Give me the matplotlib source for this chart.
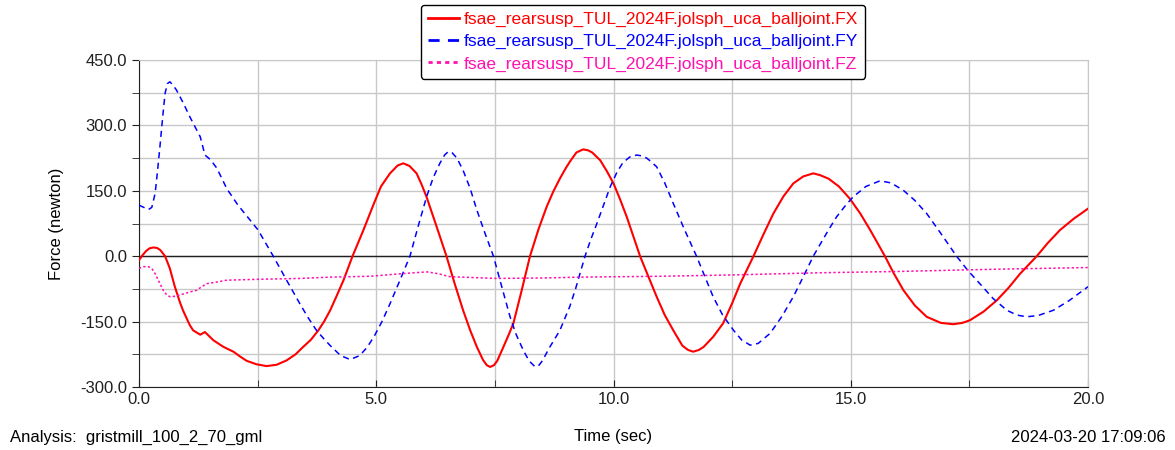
import numpy as np
import matplotlib
matplotlib.use('Agg')
import matplotlib.pyplot as plt
from matplotlib.ticker import MultipleLocator, FormatStrFormatter

plt.rcParams['font.family'] = ['Liberation Sans', 'DejaVu Sans']

# FX (solid red)
t_fx = [0.0, 0.08, 0.15, 0.22, 0.3, 0.38, 0.45, 0.55, 0.65, 0.75, 0.86, 0.93, 1.07,
        1.14, 1.29, 1.39, 1.57, 1.78, 1.99, 2.13, 2.27, 2.48, 2.69, 2.9, 3.11, 3.3,
        3.46, 3.62, 3.78, 3.9, 4.03, 4.17, 4.31, 4.5, 4.73, 4.94, 5.1, 5.29, 5.45,
        5.57, 5.7, 5.85, 5.95, 6.06, 6.25, 6.48, 6.65, 6.83, 6.98, 7.12, 7.25, 7.33,
        7.4, 7.48, 7.55, 7.68, 7.78, 7.89, 8.05, 8.24, 8.42, 8.59, 8.73, 8.87, 9.0,
        9.1, 9.22, 9.36, 9.46, 9.55, 9.72, 9.86, 10.0, 10.14, 10.28, 10.42, 10.56,
        10.74, 10.91, 11.08, 11.26, 11.45, 11.57, 11.68, 11.8, 11.9, 12.1, 12.31,
        12.5, 12.67, 12.95, 13.16, 13.37, 13.58, 13.79, 14.0, 14.21, 14.35, 14.53,
        14.75, 14.98, 15.2, 15.41, 15.72, 15.9, 16.11, 16.35, 16.6, 16.9, 17.16,
        17.35, 17.51, 17.8, 18.08, 18.33, 18.57, 18.92, 19.15, 19.41, 19.7, 20.0]
fx = [-9, 3, 12, 18, 20, 19, 14, 0, -28, -68, -105, -125, -158,
      -170, -180, -174, -193, -208, -219, -230, -240, -248, -252, -249, -239, -225,
      -208, -192, -170, -150, -124, -90, -55, 0, 60, 118, 160, 190, 208,
      213, 207, 190, 166, 136, 75, 0, -62, -124, -170, -208, -238, -250,
      -254, -250, -240, -208, -183, -154, -85, 0, 62, 113, 148, 178, 203,
      220, 238, 245, 243, 238, 220, 195, 167, 130, 90, 45, 0,
      -48, -93, -135, -170, -205, -215, -219, -215, -208, -185, -154,
      -108, -63, 0, 50, 98, 137, 167, 183, 190, 186, 178,
      160, 132, 98, 60, 0, -38, -78, -113, -139, -153, -156,
      -153, -147, -127, -101, -72, -40, 0, 30, 60, 86, 109]

# FY (dashed blue)
t_fy = [0.0, 0.1, 0.2, 0.27, 0.34, 0.39, 0.44, 0.5, 0.55, 0.6, 0.65, 0.72, 0.79,
        0.93, 1.07, 1.18, 1.29, 1.39, 1.5, 1.64, 1.85, 2.08, 2.34, 2.51, 2.67, 2.83,
        3.11, 3.39, 3.57, 3.74, 3.9, 4.03, 4.25, 4.45, 4.65, 4.8, 4.95, 5.12, 5.29,
        5.5, 5.71, 5.9, 6.06, 6.2, 6.34, 6.44, 6.52, 6.6, 6.7, 6.83, 6.98, 7.12,
        7.3, 7.47, 7.65, 7.82, 7.95, 8.1, 8.22, 8.35, 8.43, 8.5, 8.66, 8.87, 9.08,
        9.2, 9.4, 9.52, 9.65, 9.8, 9.93, 10.07, 10.2, 10.35, 10.49, 10.6, 10.7,
        10.8, 10.91, 11.08, 11.26, 11.5, 11.75, 11.93, 12.1, 12.3, 12.53, 12.7,
        12.88, 13.05, 13.3, 13.55, 13.79, 14.0, 14.21, 14.53, 14.7, 14.88, 15.05,
        15.32, 15.62, 15.85, 16.11, 16.35, 16.6, 16.9, 17.23, 17.47, 17.72, 18.0,
        18.29, 18.5, 18.71, 18.95, 19.27, 19.6, 20.0]
fy = [117, 112, 107, 112, 144, 195, 250, 320, 374, 396, 400, 392, 381,
      352, 320, 297, 274, 232, 222, 202, 155, 118, 83, 60, 30, 0,
      -55, -109, -142, -170, -190, -205, -228, -237, -228, -210, -185, -150, -109,
      -55, 0, 75, 136, 180, 213, 232, 240, 237, 225, 197, 155, 106,
      50, 0, -72, -139, -180, -216, -240, -254, -250, -240, -208, -170, -115,
      -75, 0, 38, 75, 120, 159, 192, 215, 228, 232, 230, 225,
      216, 205, 168, 121, 60, 0, -48, -93, -135, -170, -192,
      -204, -200, -177, -138, -93, -47, 0, 60, 90, 115, 136,
      160, 173, 168, 151, 128, 98, 52, 0, -33, -63, -97,
      -124, -135, -139, -136, -124, -102, -70]

# FZ (dotted magenta)
t_fz = [0.0, 0.1, 0.2, 0.28, 0.34, 0.42, 0.51, 0.58, 0.65, 0.75, 0.86, 1.07, 1.22,
        1.32, 1.43, 1.6, 1.85, 2.5, 3.39, 4.03, 4.87, 5.43, 5.8, 6.07, 6.3, 6.55,
        7.54, 8.5, 9.29, 11.0, 12.5, 14.35, 16.0, 18.0, 20.0]
fz = [-28, -24, -24, -30, -40, -58, -78, -88, -93, -92, -89, -82, -78,
      -70, -63, -60, -55, -53, -51, -48, -46, -41, -38, -36, -40, -47,
      -51, -50, -48, -46, -43, -38, -35, -30, -26]

labels = ['fsae_rearsusp_TUL_2024F.jolsph_uca_balljoint.FX',
          'fsae_rearsusp_TUL_2024F.jolsph_uca_balljoint.FY',
          'fsae_rearsusp_TUL_2024F.jolsph_uca_balljoint.FZ']
colors = ['#ff0000', '#0000ff', '#ff10b0']

fig = plt.figure(figsize=(11.75, 4.5), dpi=100)
ax = fig.add_axes([139 / 1175, 1 - 387 / 450, 949 / 1175, 327 / 450])

ax.axhline(0, color='#202020', lw=1, zorder=1)
l1, = ax.plot(t_fx, fx, color=colors[0], lw=1.5, label=labels[0], zorder=3)
l2, = ax.plot(t_fy, fy, color=colors[1], lw=1.1, ls=(0, (4, 3)), label=labels[1], zorder=3)
l3, = ax.plot(t_fz, fz, color=colors[2], lw=1.1, ls=(0, (1.5, 1.5)), label=labels[2], zorder=3)

ax.set_xlim(0, 20)
ax.set_ylim(-300, 450)
ax.xaxis.set_major_locator(MultipleLocator(5))
ax.xaxis.set_minor_locator(MultipleLocator(2.5))
ax.yaxis.set_major_locator(MultipleLocator(150))
ax.yaxis.set_minor_locator(MultipleLocator(75))
ax.xaxis.set_major_formatter(FormatStrFormatter('%.1f'))
ax.yaxis.set_major_formatter(FormatStrFormatter('%.1f'))
ax.grid(which='both', color='#c8c8c8', lw=1)
ax.set_axisbelow(True)
ax.tick_params(axis='both', which='both', labelsize=12, colors='#202020', length=5)
ax.tick_params(axis='x', which='both', direction='in')
for s in ['top', 'right']:
    ax.spines[s].set_color('#c8c8c8')
for s in ['left', 'bottom']:
    ax.spines[s].set_color('#202020')

ax.set_ylabel('Force (newton)', fontsize=12, labelpad=12)
fig.text(613 / 1175, 1 - 437 / 450, 'Time (sec)', fontsize=12, ha='center', va='center')
fig.text(10 / 1175, 1 - 437 / 450, 'Analysis:  gristmill_100_2_70_gml', fontsize=12,
         ha='left', va='center')
fig.text(1166 / 1175, 1 - 437 / 450, '2024-03-20 17:09:06', fontsize=12,
         ha='right', va='center')

leg = fig.legend(handles=[l1, l2, l3], loc='upper center',
                 bbox_to_anchor=(643 / 1175, 1 - 5 / 450), borderaxespad=0,
                 fontsize=12.5, handlelength=1.8, handletextpad=0.3,
                 labelspacing=0.4, borderpad=0.4, fancybox=True, framealpha=1,
                 edgecolor='black')
leg.get_frame().set_linewidth(1)
for line, text, c in zip(leg.get_lines(), leg.get_texts(), colors):
    line.set_linewidth(2)
    text.set_color(c)

fig.savefig('out.png', dpi=100)
